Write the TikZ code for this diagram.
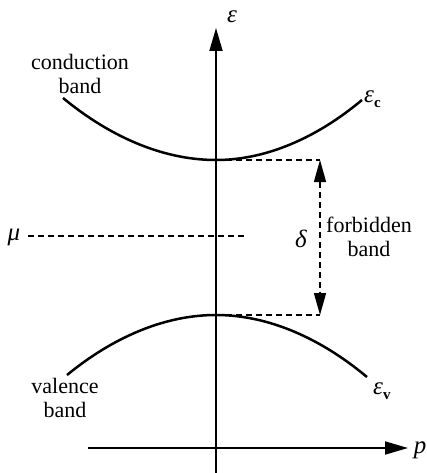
\documentclass[tikz,border=0pt]{standalone}
\usepackage{fontspec}
\setmainfont{Liberation Serif}
\usetikzlibrary{arrows.meta}
\begin{document}
\begin{tikzpicture}[x=1pt,y=-1pt,
  lbl/.style={font=\fontsize{22}{24}\selectfont, align=center, inner sep=0pt},
  gr/.style={font=\fontsize{25}{26}\selectfont\itshape, inner sep=0pt},
  axis/.style={line width=1.8pt, -{Triangle[length=23pt,width=13pt]}},
  band/.style={line width=2.5pt},
  dsh/.style={line width=1.4pt, dash pattern=on 6pt off 4pt},
  gap/.style={line width=1.4pt, dash pattern=on 6pt off 4pt, {Triangle[length=22pt,width=12pt]}-{Triangle[length=22pt,width=12pt]}}]
\useasboundingbox (0,0) rectangle (427,473);
% coordinates
\coordinate (vb) at (216,473);
\coordinate (vt) at (216,28);
\coordinate (hl) at (88,448);
\coordinate (hr) at (408,448);
\coordinate (cl) at (63,98);
\coordinate (cm) at (216,160);
\coordinate (cr) at (362,100);
\coordinate (vl) at (67,375);
\coordinate (vm) at (216,315);
\coordinate (vr) at (367,377);
\coordinate (ct) at (320,160);
\coordinate (vtp) at (320,315);
\coordinate (ml) at (28,236);
\coordinate (mr) at (245,236);
% axes
\draw[axis] (vb) -- (vt);
\draw[axis] (hl) -- (hr);
% bands
\draw[band] (cl) parabola bend (cm) (cr);
\draw[band] (vl) parabola bend (vm) (vr);
% dashed
\draw[dsh] (cm) -- (ct);
\draw[dsh] (vm) -- (vtp);
\draw[dsh] (ml) -- (mr);
\draw[gap] (ct) -- (vtp);
% labels
\node[gr] (eps) at (232,17) {ε};
\node[gr] (p) at (420,450) {p};
\node[gr] (mu) at (14,237) {μ};
\node[gr] (delta) at (301,239) {δ};
\node[gr,anchor=west] (ec) at (364,99) {ε\raisebox{-5pt}{\upshape\bfseries\fontsize{15}{15}\selectfont c}};
\node[gr,anchor=west] (ev) at (373,391) {ε\raisebox{-5pt}{\upshape\bfseries\fontsize{15}{15}\selectfont v}};
\node[lbl] (cb) at (80,74) {conduction\\band};
\node[lbl] (fb) at (369,237) {forbidden\\band};
\node[lbl] (vbd) at (65,398) {valence\\band};
\end{tikzpicture}
\end{document}
